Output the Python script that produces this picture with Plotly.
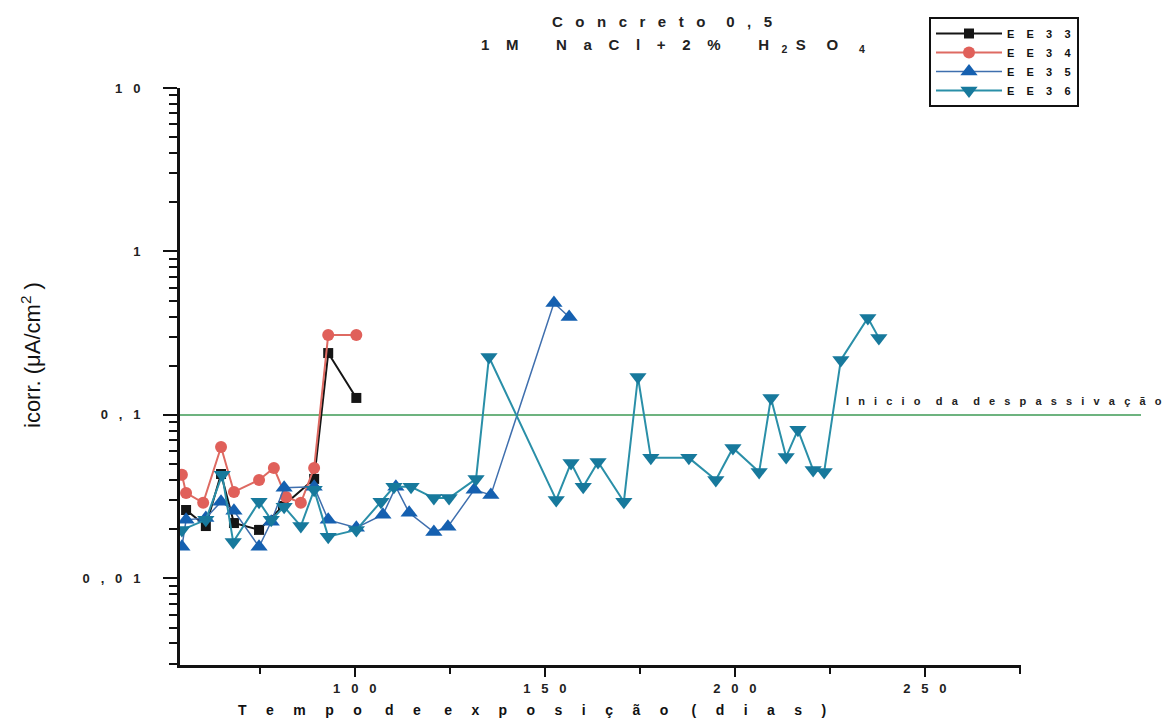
import plotly.graph_objects as go

# ---------------- data ----------------
ee33_x = [55.6, 60.8, 64.8, 68.2, 74.8, 81.1, 89.3, 93.0, 100.4]
ee33_y = [0.0262, 0.0209, 0.0435, 0.0218, 0.0198, 0.0277, 0.0406, 0.239, 0.127]

ee34_x = [54.5, 55.6, 60.1, 64.8, 68.2, 74.8, 78.7, 81.9, 85.8, 89.3, 93.0, 100.4]
ee34_y = [0.043, 0.0333, 0.029, 0.0637, 0.0338, 0.040, 0.0474, 0.0315, 0.029, 0.0474, 0.308, 0.308]

ee35_x = [54.5, 55.6, 60.8, 64.8, 68.2, 74.8, 78.0, 81.4, 89.3, 93.0, 100.4, 107.4,
          110.8, 114.3, 120.8, 124.5, 131.4, 135.8, 152.4, 156.4]
ee35_y = [0.0156, 0.0228, 0.0234, 0.0294, 0.0259, 0.0156, 0.0222, 0.0358, 0.0363, 0.0228,
          0.0204, 0.0245, 0.0363, 0.0252, 0.0192, 0.0207, 0.0348, 0.0324, 0.484, 0.397]

ee36_x = [54.5, 60.8, 65.1, 68.0, 74.8, 78.0, 81.4, 85.8, 89.3, 93.0, 100.4, 106.9,
          110.3, 114.8, 120.8, 124.8, 131.9, 135.3, 153.0, 156.9, 160.1, 164.0, 170.8,
          174.5, 177.9, 187.9, 195.0, 199.5, 206.4, 209.5, 213.5, 216.6, 220.6, 223.5,
          227.9, 235.0, 237.9]
ee36_y = [0.0198, 0.0228, 0.043, 0.0167, 0.0294, 0.0228, 0.0274, 0.0209, 0.0348, 0.0180,
          0.0198, 0.0294, 0.0363, 0.0363, 0.031, 0.031, 0.0406, 0.226, 0.0302, 0.0508,
          0.0363, 0.0516, 0.0294, 0.1706, 0.0546, 0.0546, 0.040, 0.0628, 0.0448, 0.127,
          0.0553, 0.081, 0.0461, 0.0448, 0.217, 0.392, 0.296]

threshold = 0.1
x_ticks = [100, 150, 200, 250]
y_ticks = [0.01, 0.1, 1, 10]
y_tick_text = ["0 , 0 1", "0 , 1", "1", "1 0"]

NB = "\u00a0"


def sp(s, n=2, w=4):
    """letter-spaced text, as in the original figure"""
    out = []
    for word in s.split(" "):
        out.append((NB * n).join(word))
    return (NB * w).join(out)


FONT = "Liberation Sans, Arial, sans-serif"
DX, DY = -7, -8
PW_L, PW_R = 179 + DX, 1020 + DX
PT, PB = 88 + DY, 665 + DY
W = PW_R - PW_L
H = PB - PT


def px(x):
    return (x + DX - PW_L) / W


def py(y):
    return (PB - (y + DY)) / H


fig = go.Figure()

fig.add_trace(go.Scatter(
    x=ee33_x, y=ee33_y, mode="lines+markers", name=sp("EE33", 4),
    line=dict(color="#151515", width=2),
    marker=dict(symbol="square", size=10, color="#151515")))
fig.add_trace(go.Scatter(
    x=ee34_x, y=ee34_y, mode="lines+markers", name=sp("EE34", 4),
    line=dict(color="#de6a62", width=2),
    marker=dict(symbol="circle", size=12, color="#e0605a")))
fig.add_trace(go.Scatter(
    x=ee35_x, y=ee35_y, mode="lines+markers", name=sp("EE35", 4),
    line=dict(color="#3f6fae", width=1.5),
    marker=dict(symbol="triangle-up", size=15, color="#1560b0")))
fig.add_trace(go.Scatter(
    x=ee36_x, y=ee36_y, mode="lines+markers", name=sp("EE36", 4),
    line=dict(color="#2a8fa8", width=2),
    marker=dict(symbol="triangle-down", size=15, color="#17799c")))

# threshold line, running past the right end of the axis
fig.add_shape(type="line", xref="paper", yref="y", x0=0, x1=px(1140),
              y0=threshold, y1=threshold, line=dict(color="#3d9a55", width=1.5), layer="below")
fig.add_annotation(xref="paper", yref="paper", x=px(843), y=py(401),
                   xanchor="left", yanchor="middle", showarrow=False,
                   text=sp("Inicio da despassivação", 3, 5),
                   font=dict(family=FONT, size=11, color="#222", weight="bold"))

# titles
fig.add_annotation(xref="paper", yref="paper", x=px(661), y=py(21),
                   showarrow=False, xanchor="center", yanchor="middle",
                   text=sp("Concreto 0,5", 3, 5),
                   font=dict(family=FONT, size=15, color="#222", weight="bold"))
fig.add_annotation(xref="paper", yref="paper", x=px(672), y=py(46),
                   showarrow=False, xanchor="center", yanchor="middle",
                   text=sp("1M", 4) + NB * 9 + sp("NaCl+2%", 4) + NB * 9 + "H" + NB * 3 +
                   "<sub>2</sub>" + NB * 2 + "S" + NB * 5 + "O" + NB * 5 + "<sub>4</sub>",
                   font=dict(family=FONT, size=15, color="#222", weight="bold"))
fig.add_annotation(xref="paper", yref="paper", x=px(531), y=py(710),
                   showarrow=False, xanchor="center", yanchor="middle",
                   text=sp("Tempo de exposição (dias)", 5, 6),
                   font=dict(family=FONT, size=14, color="#111", weight="bold"))
fig.add_annotation(xref="paper", yref="paper", x=px(30), y=py(355),
                   showarrow=False, xanchor="center", yanchor="middle", textangle=-90,
                   text="icorr. (μA/cm<sup>2</sup> )",
                   font=dict(family=FONT, size=22, color="#111"))

minor_y = [m * 10 ** e for e in range(-3, 1) for m in range(2, 10)]

fig.update_layout(
    width=1171, height=725,
    margin=dict(l=PW_L, r=1171 - PW_R, t=PT, b=725 - PB, autoexpand=False),
    paper_bgcolor="white", plot_bgcolor="white",
    showlegend=True,
    legend=dict(x=px(928), y=py(17), xanchor="left", yanchor="top",
                bordercolor="#111", borderwidth=2, bgcolor="white",
                font=dict(family=FONT, size=11, color="#111", weight="bold"),
                itemwidth=66, tracegroupgap=0),
    xaxis=dict(range=[54, 275.3], showgrid=False, zeroline=False, automargin=False,
               showline=True, linecolor="#111", linewidth=3,
               tickmode="array", tickvals=x_ticks, ticktext=[sp(str(v), 3) for v in x_ticks],
               ticks="outside", ticklen=9, tickwidth=2, tickcolor="#111",
               minor=dict(tickmode="array", tickvals=[75, 125, 175, 225, 275], ticks="outside",
                          ticklen=6, tickwidth=2, tickcolor="#111", showgrid=False),
               tickfont=dict(family=FONT, size=13, color="#222", weight="bold")),
    yaxis=dict(type="log", range=[-2.53, 1], showgrid=False, zeroline=False, automargin=False,
               showline=True, linecolor="#111", linewidth=3,
               tickmode="array", tickvals=y_ticks,
               ticktext=[t.replace(" ", NB * 3) for t in y_tick_text],
               ticks="outside", ticklen=14, tickwidth=2, tickcolor="#111",
               ticklabelstandoff=20,
               minor=dict(tickmode="array", tickvals=minor_y, ticks="outside",
                          ticklen=8, tickwidth=2, tickcolor="#111", showgrid=False),
               tickfont=dict(family=FONT, size=13, color="#222", weight="bold")),
)

fig.write_html("out.html")
